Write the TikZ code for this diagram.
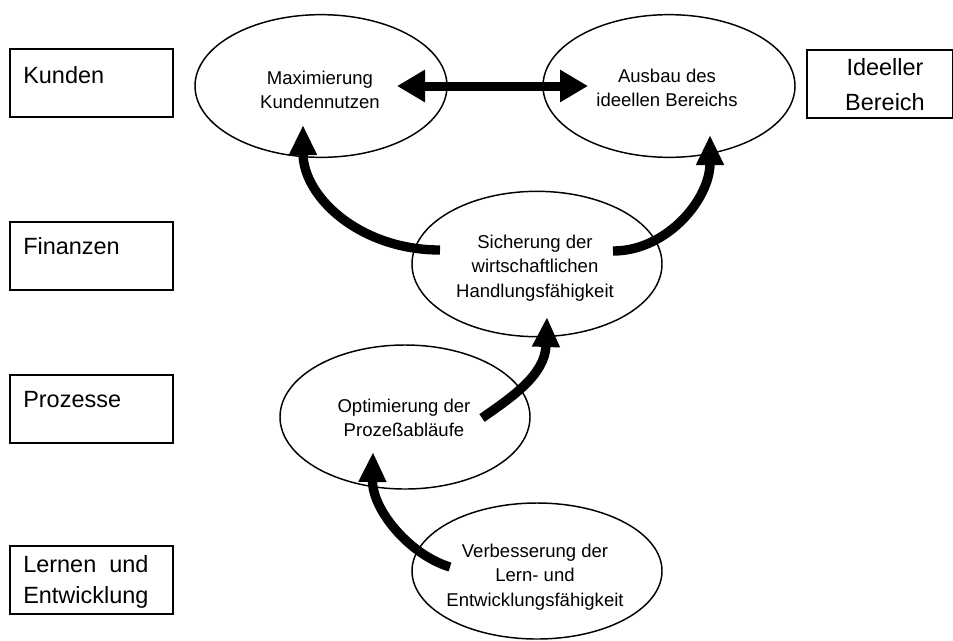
\documentclass[tikz,border=0pt]{standalone}
\usepackage{fontspec}
\setmainfont{Liberation Sans}
\usetikzlibrary{arrows.meta,shapes.geometric,calc}

\begin{document}
\begin{tikzpicture}[x=0.75pt,y=-0.75pt,
  frame/.style={draw, line width=1.5pt, inner sep=0pt, anchor=north west,
    minimum width=122.25pt, minimum height=51pt},
  framelabel/.style={inner sep=0pt, font=\fontsize{17.6}{23.8}\selectfont},
  bubble/.style={draw, ellipse, line width=1.1pt, inner sep=0pt},
  bubbletext/.style={inner sep=0pt, align=center,
    font=\fontsize{13.9}{18.4}\selectfont},
  flow/.style={line width=7pt, -{Triangle[length=22.5pt,width=19.5pt]}},
  link/.style={line width=6.75pt,
    {Triangle[length=21pt,width=23pt]}-{Triangle[length=21pt,width=23pt]}}]

\useasboundingbox (0,0) rectangle (953,640);
\fill[white] (0,0) rectangle (953,640);

% perspective boxes
\node[frame] (kunden)   at (9,48)  {};
\node[frame] (finanzen) at (9,221) {};
\node[frame] (prozesse) at (9,374) {};
\node[frame] (lernen)   at (9,545) {};
\node[frame, minimum width=109.5pt] (ideell) at (806,49) {};

\node[framelabel, anchor=base west] (kunden-t)   at (23,83)  {Kunden};
\node[framelabel, anchor=base west] (finanzen-t) at (23,254) {Finanzen};
\node[framelabel, anchor=base west] (prozesse-t) at (23,407) {Prozesse};
\node[framelabel, anchor=west, align=left] (lernen-t) at (23,582)
  {\setbox0\hbox{Entwicklung}\hbox to \wd0{Lernen\hfil und}\\Entwicklung};
\node[framelabel, anchor=center, align=center,
  font=\fontsize{17.6}{26.8}\selectfont] (ideell-t) at (885,84.5)
  {Ideeller\\Bereich};

% goal ellipses
\node[bubble, minimum width=189pt, minimum height=107pt] (maxi) at (321,86) {};
\node[bubble, minimum width=189pt, minimum height=107pt] (ausb) at (669,86) {};
\node[bubble, minimum width=187.5pt, minimum height=109pt] (sich) at (537,264) {};
\node[bubble, minimum width=187.5pt, minimum height=108pt] (opt) at (405,417) {};
\node[bubble, minimum width=187.5pt, minimum height=102pt] (verb) at (537,571) {};

\node[bubbletext] (maxi-t) at (320,90) {Maximierung\\Kundennutzen};
\node[bubbletext] (ausb-t) at (667,88) {Ausbau des\\ideellen Bereichs};
\node[bubbletext] (sich-t) at (535,268)
  {Sicherung der\\wirtschaftlichen\\Handlungsfähigkeit};
\node[bubbletext] (opt-t) at (404,418) {Optimierung der\\Prozeßabläufe};
\node[bubbletext] (verb-t) at (535,577)
  {Verbesserung der\\Lern- und\\Entwicklungsfähigkeit};

% cause-and-effect arrows
\draw[link] ($(maxi.center)+(76,0)$) -- ($(ausb.center)+(-81,0)$);

\draw[flow] ($(sich.center)+(-97,-14)$) .. controls +(-80,0) and +(0,72) ..
  ($(maxi.center)+(-18,39)$);
\draw[flow] ($(sich.center)+(76,-13)$) .. controls +(54,0) and +(0,64) ..
  ($(ausb.center)+(41,49)$);
\draw[flow] ($(opt.center)+(77,1)$) .. controls +(30,-21) and +(-2,58) ..
  ($(sich.center)+(10,53)$);
\draw[flow] ($(verb.center)+(-87,-4)$) .. controls +(-40,-12) and +(-1,58) ..
  ($(opt.center)+(-32,35)$);

\end{tikzpicture}
\end{document}
